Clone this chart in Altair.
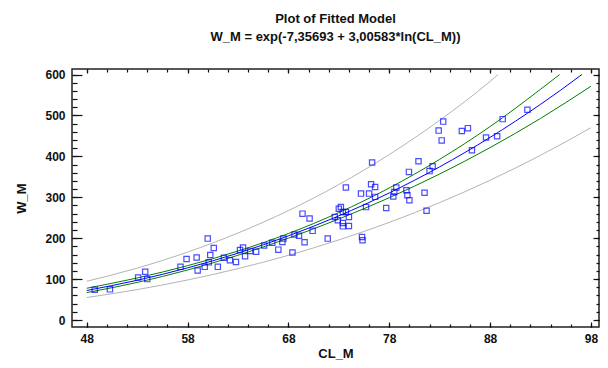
import altair as alt
import pandas as pd

cl_obs = [48.8, 50.3, 53.1, 53.8, 54.0, 57.3, 57.9, 58.9, 59.0, 59.7, 60.0, 60.25, 60.6, 61.0, 60.1,
          62.2, 62.8, 63.2, 63.5, 63.7, 64.2, 64.8, 66.4, 67.0, 67.4, 67.5, 68.4, 68.6, 69.05, 69.4,
          69.6, 70.1, 70.4, 71.9, 73.0, 73.2, 72.6, 72.9, 73.4, 73.7, 73.4, 73.4, 74.0, 73.7, 74.0,
          75.2, 76.0, 75.3, 75.35, 75.7, 76.3, 76.2, 76.6, 76.6, 77.7, 78.4, 78.5, 78.7, 79.7, 79.8,
          80.0, 79.95, 80.9, 81.5, 81.7, 82.0, 82.3, 82.9, 83.2, 83.35, 85.2, 85.8, 86.2, 87.6, 88.7,
          89.25, 91.7, 61.6, 65.6]
w_obs = [74, 75, 104, 118, 100, 130, 149, 153, 121, 130, 199, 159, 176, 130, 141,
         146, 142, 171, 177, 156, 169, 167, 189, 172, 191, 199, 165, 209, 206, 260,
         190, 248, 218, 199, 272, 276, 252, 244, 264, 264, 237, 229, 230, 324, 252,
         309, 309, 203, 195, 276, 385, 332, 325, 301, 274, 302, 313, 324, 317, 305,
         293, 362, 388, 311, 267, 364, 376, 463, 439, 485, 462, 469, 415, 446, 449,
         491, 514, 152, 182]

# fitted curve and limits (read / estimated), clipped at 600
fit_cl = [48, 53, 58, 63, 68, 73, 78, 83, 88, 93, 95, 97.1]
fit_w = [72.2, 97.2, 127.5, 163.5, 205.7, 254.6, 310.6, 374.4, 446.4, 527.1, 561.8, 600]

gu_cl = [48, 53, 58, 63, 68, 73, 78, 83, 88, 93, 94.9]
gu_w = [77.7, 102.8, 132.9, 168.7, 211.4, 262.6, 322.8, 392.7, 472.8, 563.9, 600]

gl_cl = [48, 53, 58, 63, 68, 73, 78, 83, 88, 93, 98]
gl_w = [67.1, 91.9, 122.3, 158.4, 200.1, 246.9, 298.9, 356.9, 421.4, 492.7, 571.3]

pu_cl = [48, 53, 58, 63, 68, 73, 78, 83, 88, 88.8]
pu_w = [94.7, 126.9, 166.1, 212.7, 267.4, 331.1, 404.4, 488.2, 583.2, 600]

pl_cl = [48, 53, 58, 63, 68, 73, 78, 83, 88, 93, 98]
pl_w = [55.0, 74.4, 97.9, 125.7, 158.2, 195.8, 238.6, 287.1, 341.7, 402.5, 470.0]

x_major = [48, 58, 68, 78, 88, 98]
x_minor = list(range(48, 99, 2))
y_major = [0, 100, 200, 300, 400, 500, 600]
y_minor = list(range(0, 601, 20))

FONT = "Liberation Sans Narrow, Arial Narrow, Liberation Sans, Arial, sans-serif"

xscale = alt.Scale(domain=[46.54, 98.8], nice=False, zero=False)
yscale = alt.Scale(domain=[-17, 613.5], nice=False, zero=False)

common = dict(domain=False, grid=False, tickColor="#111", tickWidth=1.2)

def xaxis(orient, vals, size, labels=False, title=""):
    kw = dict(common)
    kw.update(orient=orient, values=vals, offset=-size, tickSize=size, labels=labels, title=title)
    if labels:
        kw.update(labelFont=FONT, labelFontSize=12, labelFontWeight="bold", labelColor="#111",
                  labelPadding=6, titleFont=FONT, titleFontSize=13, titleFontWeight="bold",
                  titleColor="#111", titlePadding=3)
    return alt.Axis(**kw)

def yaxis(orient, vals, size, labels=False, title=""):
    kw = dict(common)
    kw.update(orient=orient, values=vals, offset=-size, tickSize=size, labels=labels, title=title)
    if labels:
        kw.update(labelFont=FONT, labelFontSize=12, labelFontWeight="bold", labelColor="#111",
                  labelPadding=7, titleFont=FONT, titleFontSize=13, titleFontWeight="bold",
                  titleColor="#111", titlePadding=16)
    return alt.Axis(**kw)

def line(cls, ws, color, xa, ya):
    df = pd.DataFrame({"CL": cls, "W": ws})
    return alt.Chart(df).mark_line(color=color, strokeWidth=1, interpolate="monotone").encode(
        x=alt.X("CL:Q", scale=xscale, axis=xa),
        y=alt.Y("W:Q", scale=yscale, axis=ya),
    )

obs = pd.DataFrame({"CL": cl_obs, "W": w_obs})
points = alt.Chart(obs).mark_square(filled=False, size=28, color="#0000ff", strokeWidth=1.2).encode(
    x=alt.X("CL:Q", scale=xscale, axis=xaxis("bottom", x_major, 5, labels=True, title="CL_M")),
    y=alt.Y("W:Q", scale=yscale, axis=yaxis("left", y_major, 10, labels=True, title="W_M")),
)

grey_up = line(pu_cl, pu_w, "#b4b4b4", xaxis("bottom", x_minor, 3), yaxis("left", y_minor, 5))
grey_lo = line(pl_cl, pl_w, "#b4b4b4", xaxis("top", x_major, 4), yaxis("right", y_major, 6))
green_up = line(gu_cl, gu_w, "#008000", xaxis("top", x_minor, 3), yaxis("right", y_minor, 3))
green_lo = line(gl_cl, gl_w, "#008000", None, None)
fit = line(fit_cl, fit_w, "#0000ff", None, None)

chart = alt.layer(grey_up, grey_lo, green_up, green_lo, fit, points).resolve_axis(
    x="independent", y="independent"
).properties(
    width=527,
    height=258,
    autosize=alt.AutoSizeParams(type="none"),
    padding={"left": 64, "top": 61, "right": 1, "bottom": 33},
    title=alt.TitleParams(
        text="Plot of Fitted Model",
        subtitle="W_M = exp(-7,35693 + 3,00583*ln(CL_M))",
        font=FONT, fontSize=13, fontWeight="bold", color="#111",
        subtitleFont=FONT, subtitleFontSize=13, subtitleFontWeight="bold", subtitleColor="#111",
        subtitlePadding=5, anchor="middle", offset=24,
    ),
).configure_view(stroke="#222", strokeWidth=1.5)

chart.save("out.html", embed_options={"renderer": "svg", "actions": False})
